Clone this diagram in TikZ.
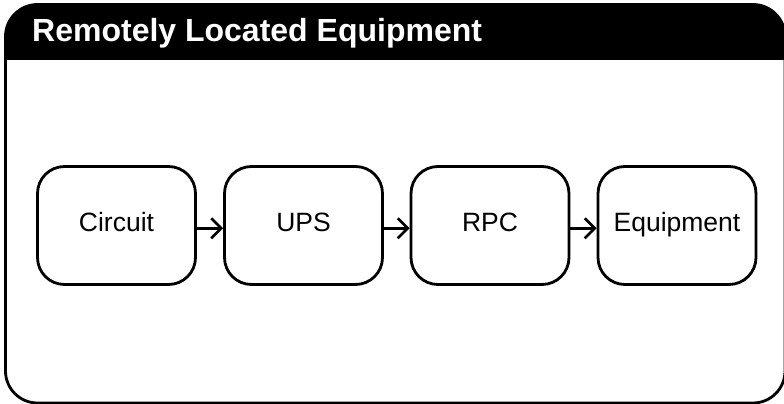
\documentclass[tikz,border=0pt]{standalone}
\usepackage{fontspec}
\setmainfont{Liberation Sans}
\usetikzlibrary{arrows.meta}
\begin{document}
\begin{tikzpicture}[x=1pt,y=1pt,
  stage/.style={draw, line width=2.8pt, rounded corners=27pt,
    minimum width=158pt, minimum height=118pt, inner sep=0pt,
    text height=19pt, text depth=6.5pt,
    font=\fontsize{26.5}{30}\selectfont},
  flow/.style={line width=2.6pt,
    -{Straight Barb[length=10pt,width=20pt,line width=2.6pt]}},
  frame/.style={line width=2.8pt, rounded corners=32pt}]
\useasboundingbox (0,0) rectangle (784,404);

% black title band with rounded top corners
\begin{scope}
  \clip (0,344) rectangle (790,410);
  \fill[frame] (5.5,300) rectangle (785,399.5);
\end{scope}
% outer frame
\draw[frame] (5.5,1) rectangle (785,399.5);

\node[anchor=base west, inner sep=0pt, text=white,
  font=\bfseries\fontsize{32}{36}\selectfont] (title) at (32,362.3)
  {Remotely Located Equipment};

% power chain
\node[stage] (circuit) at (116.5,178.5) {Circuit};
\node[stage] (ups)     at (303.5,178.5) {UPS};
\node[stage] (rpc)     at (490,178.5)   {RPC};
\node[stage] (equip)   at (677,178.5)   {Equipment};

\foreach \a/\b in {circuit/ups, ups/rpc, rpc/equip}
  \draw[flow] ([yshift=-2.8pt]\a.east) -- ([yshift=-2.8pt]\b.west);
\end{tikzpicture}
\end{document}
